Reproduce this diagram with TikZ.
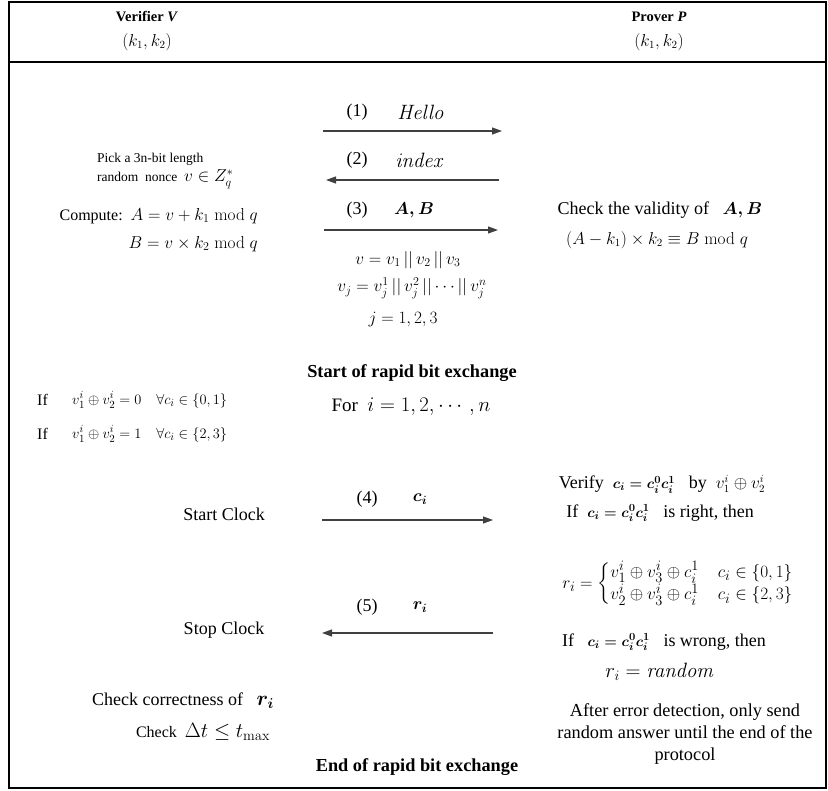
\documentclass[tikz,border=0pt]{standalone}
\usepackage{amsmath}
\usepackage[no-math]{fontspec}
\setmainfont{Liberation Serif}
\usetikzlibrary{arrows.meta}
\definecolor{arrowgray}{HTML}{404040}
\newcommand\fs[1]{\fontsize{#1}{#1}\selectfont}
\newcommand\mth[2][17]{{\fontsize{#1}{#1}\selectfont$#2$}}
\newcommand\cat{\,||\,}
\begin{document}
\begin{tikzpicture}[x=1pt,y=-1pt,
  base/.style={inner sep=0pt},
  head/.style={base, font=\fs{14.5}\bfseries},
  body/.style={base, font=\fs{18}},
  small/.style={base, font=\fs{13.5}},
  lab/.style={base, font=\fs{18}},
  bold/.style={base, font=\fs{18.3}\bfseries},
  msg/.style={draw=arrowgray, line width=1.1pt, -{Triangle[length=10pt,width=7pt]}},
  frame/.style={draw=black, line width=1.2pt}]
\useasboundingbox (0,0) rectangle (828,791);
% frame
\coordinate (tl) at (9,2);
\coordinate (br) at (826,788);
\draw[frame] (tl) rectangle (br);
\coordinate (hl) at (9,62);
\coordinate (hr) at (826,62);
\draw[frame] (hl) -- (hr);
% header
\node[head] (vname) at (147,17) {Verifier \textit{V}};
\node[base] (vkeys) at (147,42) {\mth[16]{(k_1,k_2)}};
\node[head] (pname) at (659,17) {Prover \textit{P}};
\node[base] (pkeys) at (659,42) {\mth[16]{(k_1,k_2)}};
% message 1
\node[lab] (n1) at (357,112) {(1)};
\node[base] (t1) at (421,112) {\mth[19.5]{\mathit{Hello}}};
\coordinate (a1s) at (323,131);
\coordinate (a1e) at (502,131);
\draw[msg] (a1s) -- (a1e);
% message 2
\node[lab] (n2) at (357,160) {(2)};
\node[base] (t2) at (420,160) {\mth[19.5]{\mathit{index}}};
\coordinate (a2s) at (499,180);
\coordinate (a2e) at (326,180);
\draw[msg] (a2s) -- (a2e);
% message 3
\node[lab] (n3) at (357,210) {(3)};
\node[base] (t3) at (414,210) {\mth[16]{\boldsymbol{A,B}}};
\coordinate (a3s) at (324,230);
\coordinate (a3e) at (498,230);
\draw[msg] (a3s) -- (a3e);
% verifier setup
\node[small, anchor=west, align=left] (pick) at (97,171) {Pick a 3n-bit length\\[3pt]random\ \ nonce\ \ \mth[18.5]{v\in Z_q^{*}}};
\node[body, anchor=east] (compA) at (258,216) {\fs{16}Compute:\ \ \mth[16.5]{A=v+k_1\bmod q}};
\node[body, anchor=east] (compB) at (258,244) {\mth[16.5]{B=v\times k_2\bmod q}};
% prover check
\node[body] (chk) at (660,210) {Check the validity of\ \ \ \mth[16.5]{\boldsymbol{A,B}}};
\node[base] (chkeq) at (657,240) {\mth[16]{(A-k_1)\times k_2\equiv B\bmod q}};
% center definitions
\node[base] (vdef) at (408,260) {\mth[18.5]{v=v_1\cat v_2\cat v_3}};
\node[base] (vjdef) at (412,288) {\mth[17]{v_j=v_j^1\,||\,v_j^2\,||\cdots||\,v_j^n}};
\node[base] (jdef) at (403,320) {\mth[17.5]{j=1,2,3}};
% rapid bit exchange
\node[bold] (start) at (412,373) {Start of rapid bit exchange};
\node[body] (for) at (411,407) {\fs{19}For\ \ \mth[20.5]{i=1,2,\cdots,n}};
\node[body, anchor=west] (if0) at (37,400) {\fs{16}If};
\node[base, anchor=west] (if0m) at (72,400) {\mth[15]{v_1^i\oplus v_2^i=0\quad\forall c_i\in\{0,1\}}};
\node[body, anchor=west] (if1) at (37,434) {\fs{16}If};
\node[base, anchor=west] (if1m) at (72,434) {\mth[15]{v_1^i\oplus v_2^i=1\quad\forall c_i\in\{2,3\}}};
% message 4
\node[lab] (n4) at (367,499) {(4)};
\node[base] (t4) at (420,499) {\mth{\boldsymbol{c_i}}};
\coordinate (a4s) at (322,520);
\coordinate (a4e) at (493,520);
\draw[msg] (a4s) -- (a4e);
\node[body] (startclk) at (224,514) {Start Clock};
\node[body] (verify) at (662,484) {Verify\ \ \mth[15.5]{\boldsymbol{c_i=c_i^0c_i^1}}\ \ \ by\ \ \mth[16]{v_1^i\oplus v_2^i}};
\node[body] (right) at (660,513) {If\ \ \mth[15.5]{\boldsymbol{c_i=c_i^0c_i^1}}\ \ \ is right, then};
\node[base] (cases) at (678,584) {\mth[19]{r_i=\begin{cases}v_1^i\oplus v_3^i\oplus c_i^1 & c_i\in\{0,1\}\\ v_2^i\oplus v_3^i\oplus c_i^1 & c_i\in\{2,3\}\end{cases}}};
% message 5
\node[lab] (n5) at (367,607) {(5)};
\node[base] (t5) at (420,607) {\mth{\boldsymbol{r_i}}};
\coordinate (a5s) at (493,633);
\coordinate (a5e) at (322,633);
\draw[msg] (a5s) -- (a5e);
\node[body] (stopclk) at (224,630) {Stop Clock};
\node[body] (wrong) at (664,642) {If\ \ \ \mth[15.5]{\boldsymbol{c_i=c_i^0c_i^1}}\ \ \ is wrong, then};
\node[base] (rand) at (660,672) {\mth[22]{r_i=\mathit{random}}};
% end checks
\node[body] (corr) at (183,701) {Check correctness of\ \ \ \mth[21]{\boldsymbol{r_i}}};
\node[body] (dt) at (203,732) {\fs{16}Check\ \ \mth[21]{\Delta t\le t_{\max}}};
\node[body, align=center, font=\fs{18.3}] (after) at (685,734) {After error detection, only send\\[4pt]random answer until the end of the\\[4pt]protocol};
\node[bold] (end) at (417,767) {End of rapid bit exchange};
\end{tikzpicture}
\end{document}
